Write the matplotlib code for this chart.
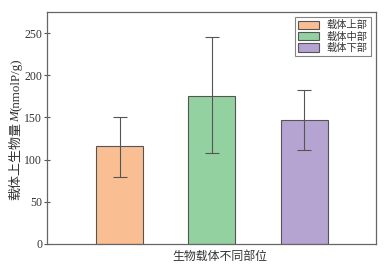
import matplotlib
matplotlib.use("Agg")
import matplotlib.pyplot as plt
import numpy as np

categories = ["载体上部", "载体中部", "载体下部"]
values = [116, 176, 147]
err_low = [80, 108, 111]
err_high = [151, 245, 183]
colors = ["#F9BE92", "#94D1A1", "#B5A4D2"]
yticks = [0, 50, 100, 150, 200, 250]

plt.rcParams['font.family'] = ['Liberation Serif', 'Noto Sans CJK SC']

fig = plt.figure(figsize=(3.92, 2.64), dpi=100)
ax = fig.add_axes([47/392, 1-244/264, 329/392, 232/264])

x = np.arange(len(categories))
vals = np.array(values)
yerr = np.array([vals - np.array(err_low), np.array(err_high) - vals])
for i in range(len(categories)):
    ax.bar(x[i], vals[i], width=0.51, color=colors[i], edgecolor="#555555",
           linewidth=0.8, label=categories[i], zorder=2)
ax.errorbar(x, vals, yerr=yerr, fmt='none', ecolor="#555555", elinewidth=0.8,
            capsize=5.0, capthick=0.8, zorder=3)

ax.set_xlim(-0.79, 2.78)
ax.set_ylim(0, 275)
ax.set_yticks(yticks)
ax.set_xticks([])
ax.tick_params(axis='y', direction='inout', length=4, width=0.8, colors="#555555",
               labelsize=8.5, labelcolor="#333333", pad=1.5)
for s in ax.spines.values():
    s.set_color("#666666")
    s.set_linewidth(0.9)

ax.set_xlabel("生物载体不同部位", fontsize=8.6, color="#333333")
ax.xaxis.set_label_coords(0.524, -0.028, transform=ax.transAxes)
ax.xaxis.label.set_va('top')

# y label composed of pieces (italic M)
pieces = [("载体上生物量", "normal"), ("M", "italic"), ("(nmolP/g)", "normal")]
fig.canvas.draw()
renderer = fig.canvas.get_renderer()
texts = []
total = 0
for s, st in pieces:
    t = fig.text(0, 0, s, rotation=90, fontsize=9.4, style=st, color="#333333",
                 ha='center', va='bottom')
    bb = t.get_window_extent(renderer)
    texts.append((t, bb.height))
    total += bb.height
xc = 16
yc = 129
ystart = (264 - yc) - total / 2
cur = ystart
for t, h in texts:
    t.set_position((xc / 392, cur / 264))
    cur += h

leg = ax.legend(loc='upper right', fontsize=7.4, frameon=True, fancybox=False,
                edgecolor="#666666", handlelength=2.0, handleheight=0.9,
                labelspacing=0.12, borderpad=0.3, handletextpad=0.8,
                borderaxespad=0.5)
leg.get_frame().set_linewidth(0.8)
for t in leg.get_texts():
    t.set_color("#333333")

fig.savefig("out.png", dpi=100)
